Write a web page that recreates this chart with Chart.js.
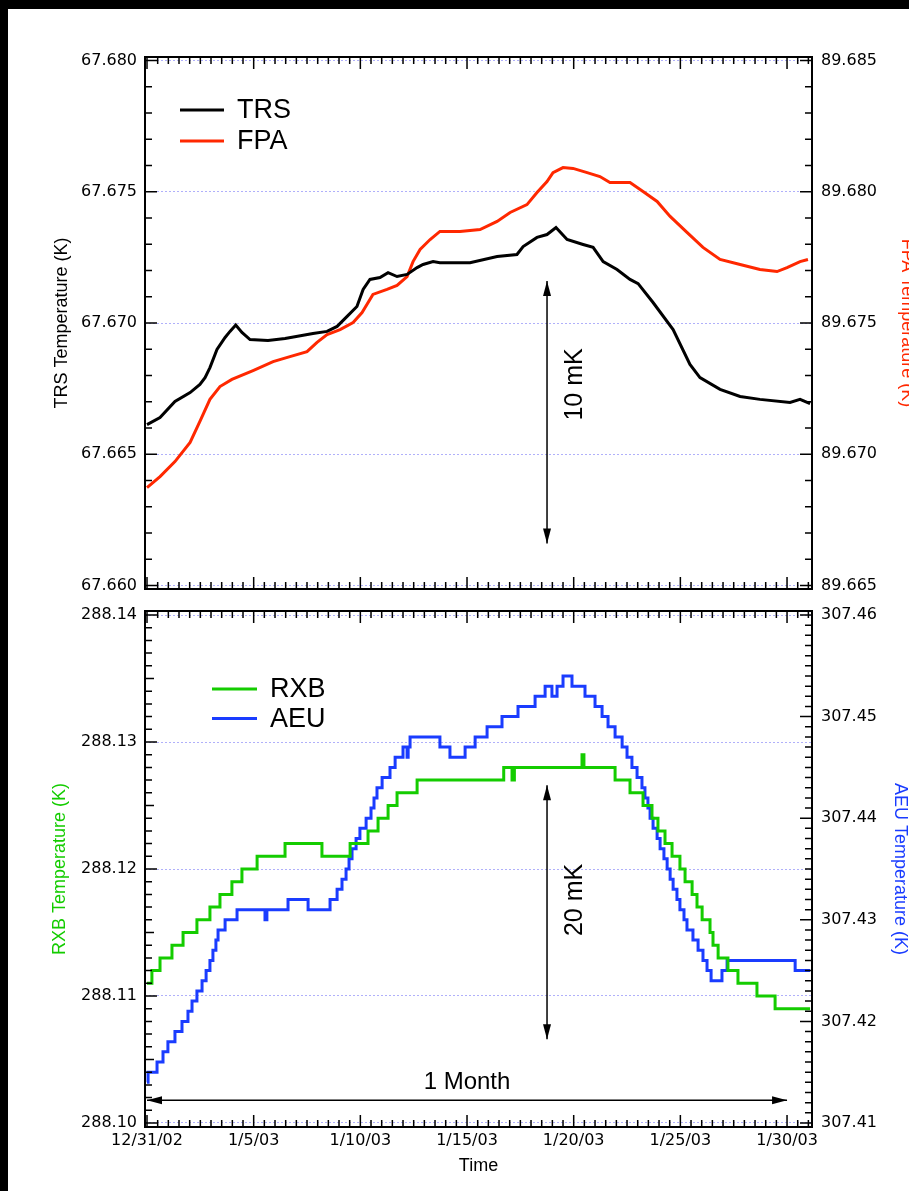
<!DOCTYPE html>
<html>
<head>
<meta charset="utf-8">
<script src="https://cdn.jsdelivr.net/npm/chart.js@4.4.1/dist/chart.umd.min.js"></script>
<style>
    body { margin: 0; background: #000; overflow: hidden; width: 909px; height: 1191px; position: relative; }
    #hoja { position: absolute; left: 8px; top: 9px; width: 901px; height: 1182px; background: #fff; }
    canvas { position: absolute; left: 0; }
    #graficoArriba { top: 0; }
    #graficoAbajo { top: 590px; }
</style>
</head>
<body>
<div id="hoja"></div>
<canvas id="graficoArriba" width="930" height="620"></canvas>
<canvas id="graficoAbajo" width="930" height="601"></canvas>
<script>
//Eje X: dias desde 12/31/02
var dayTicks = [0, 5, 10, 15, 20, 25, 30];
var dateLabels = ['12/31/02', '1/5/03', '1/10/03', '1/15/03', '1/20/03', '1/25/03', '1/30/03'];

//Etiquetas ejes Y
var trsTicks = ['67.660', '67.665', '67.670', '67.675', '67.680'];
var fpaTicks = ['89.665', '89.670', '89.675', '89.680', '89.685'];
var rxbTicks = ['288.10', '288.11', '288.12', '288.13', '288.14'];
var aeuTicks = ['307.41', '307.42', '307.43', '307.44', '307.45', '307.46'];

//TRS (K)
var trsDays = [0, 0.61, 1.31, 2.02, 2.48, 2.72, 2.95, 3.28, 3.66, 3.89, 4.16, 4.45, 4.83, 5.67, 6.47,
    7.78, 8.44, 8.91, 9.38, 9.84, 10.13, 10.45, 10.92, 11.30, 11.72, 12.19, 12.66, 12.94, 13.41, 13.73,
    15.14, 16.41, 17.34, 17.63, 18.28, 18.75, 19.17, 19.69, 20.44, 20.91, 21.38, 22.03, 22.64, 23.02, 23.72,
    24.66, 25.45, 25.92, 26.86, 27.80, 28.73, 30.14, 30.61, 31.08];
var trsTemp = [67.66613, 67.66640, 67.66701, 67.66735, 67.66766, 67.66792, 67.66830, 67.66899, 67.66945, 67.66968,
    67.66992, 67.66964, 67.66937, 67.66933, 67.66941, 67.66960, 67.66968, 67.66987, 67.67025, 67.67063,
    67.67128, 67.67166, 67.67173, 67.67192, 67.67177, 67.67185, 67.67211, 67.67223, 67.67234, 67.67230,
    67.67230, 67.67253, 67.67261, 67.67291, 67.67326, 67.67337, 67.67364, 67.67318, 67.67299, 67.67288,
    67.67234, 67.67204, 67.67166, 67.67150, 67.67078, 67.66975, 67.66842, 67.66792, 67.66747, 67.66720,
    67.66709, 67.66697, 67.66709, 67.66693];

//FPA (K)
var fpaDays = [0, 0.61, 1.31, 2.02, 2.48, 2.95, 3.42, 3.98, 4.97, 5.91, 6.70, 7.50, 7.97, 8.44, 9.05,
    9.66, 10.08, 10.59, 11.25, 11.72, 12.19, 12.47, 12.80, 13.27, 13.73, 14.67, 15.61, 16.41, 17.02, 17.81,
    18.28, 18.75, 19.03, 19.50, 19.97, 20.63, 21.23, 21.70, 22.64, 23.25, 23.91, 24.52, 25.31, 26.06, 26.86,
    27.80, 28.73, 29.53, 30.00, 30.61, 30.98];
var fpaTemp = [89.66873, 89.66915, 89.66972, 89.67045, 89.67125, 89.67209, 89.67258, 89.67285, 89.67319, 89.67353,
    89.67372, 89.67391, 89.67426, 89.67456, 89.67475, 89.67502, 89.67540, 89.67609, 89.67628, 89.67643,
    89.67677, 89.67734, 89.67780, 89.67818, 89.67849, 89.67849, 89.67856, 89.67887, 89.67921, 89.67951,
    89.67997, 89.68039, 89.68073, 89.68092, 89.68089, 89.68073, 89.68058, 89.68035, 89.68035, 89.68001,
    89.67963, 89.67906, 89.67845, 89.67788, 89.67742, 89.67723, 89.67704, 89.67696, 89.67711, 89.67734,
    89.67742];

//RXB (K), escalones
var rxbDays = [0, 0.23, 0.61, 1.17, 1.69, 2.34, 2.95, 3.42, 3.98, 4.45, 5.16, 6.47, 8.20, 9.52, 10.36,
    10.83, 11.30, 11.72, 12.66, 16.72, 17.11, 17.22, 20.39, 20.48, 21.94, 22.64, 23.25, 23.67, 23.95, 24.28,
    24.61, 24.98, 25.22, 25.55, 25.78, 26.02, 26.39, 26.53, 26.77, 27.23, 27.70, 28.59, 29.44, 31.08];
var rxbTemp = [288.111, 288.112, 288.113, 288.114, 288.115, 288.116, 288.117, 288.118, 288.119, 288.120,
    288.121, 288.122, 288.121, 288.122, 288.123, 288.124, 288.125, 288.126, 288.127, 288.128,
    288.127, 288.128, 288.129, 288.128, 288.127, 288.126, 288.125, 288.124, 288.123, 288.122,
    288.121, 288.120, 288.119, 288.118, 288.117, 288.116, 288.115, 288.114, 288.113, 288.112,
    288.111, 288.110, 288.109, 288.109];

//AEU (K), escalones
var aeuDays = [0, 0.05, 0.47, 0.75, 0.98, 1.31, 1.64, 1.92, 2.11, 2.34, 2.58, 2.77, 2.95, 3.09, 3.23,
    3.33, 3.66, 4.22, 5.53, 5.62, 6.61, 7.55, 8.58, 8.91, 9.14, 9.33, 9.47, 9.61, 9.80, 9.98,
    10.27, 10.50, 10.64, 10.78, 11.02, 11.39, 11.63, 12.00, 12.19, 12.24, 12.33, 13.73, 14.20, 14.91, 15.38,
    15.94, 16.64, 17.39, 18.19, 18.66, 18.98, 19.22, 19.50, 19.92, 20.53, 21.00, 21.33, 21.61, 21.94, 22.27,
    22.50, 22.73, 22.97, 23.20, 23.34, 23.48, 23.58, 23.72, 23.91, 24.05, 24.23, 24.38, 24.52, 24.66, 24.84,
    24.98, 25.17, 25.31, 25.59, 25.83, 26.06, 26.25, 26.44, 26.95, 27.19, 30.38, 31.08];
var aeuTemp = [307.414, 307.415, 307.416, 307.417, 307.418, 307.419, 307.420, 307.421, 307.422, 307.423,
    307.424, 307.425, 307.426, 307.427, 307.428, 307.429, 307.430, 307.431, 307.430, 307.431,
    307.432, 307.431, 307.432, 307.433, 307.434, 307.435, 307.436, 307.437, 307.438, 307.439,
    307.440, 307.441, 307.442, 307.443, 307.444, 307.445, 307.446, 307.447, 307.446, 307.447,
    307.448, 307.447, 307.446, 307.447, 307.448, 307.449, 307.450, 307.451, 307.452, 307.453,
    307.452, 307.453, 307.454, 307.453, 307.452, 307.451, 307.450, 307.449, 307.448, 307.447,
    307.446, 307.445, 307.444, 307.443, 307.442, 307.441, 307.440, 307.439, 307.438, 307.437,
    307.436, 307.435, 307.434, 307.433, 307.432, 307.431, 307.430, 307.429, 307.428, 307.427,
    307.426, 307.425, 307.424, 307.425, 307.426, 307.425, 307.425];

var rojo = 'rgb(255, 40, 0)';
var verde = 'rgb(20, 204, 0)';
var azul = 'rgb(26, 60, 255)';

function puntos(dias, valores) {
    return dias.map(function(d, i) { return {x: d, y: valores[i]}; });
}

//Eje Y con etiquetas fijas
function ejeY(posicion, etiquetas, margen, ancho, titulo, colorTitulo, padTitulo, rejilla) {
    var lo = parseFloat(etiquetas[0]);
    var hi = parseFloat(etiquetas[etiquetas.length - 1]);
    var extra = (hi - lo) * margen;
    return {
        type: 'linear',
        position: posicion,
        min: lo - extra,
        max: hi + extra,
        afterBuildTicks: function(scale) {
            scale.ticks = etiquetas.map(function(t) { return {value: parseFloat(t)}; });
        },
        afterFit: function(scale) { scale.width = ancho; },
        ticks: {
            padding: posicion === 'left' ? 8 : 9,
            color: '#000',
            font: {family: 'DejaVu Sans', size: 16},
            callback: function(value, index) { return etiquetas[index]; }
        },
        grid: {display: rejilla, drawTicks: false, color: 'rgb(176, 176, 250)', lineWidth: 1},
        border: {display: false, dash: [2, 2]},
        title: {
            display: true,
            text: titulo,
            color: colorTitulo,
            font: {family: 'Liberation Sans', size: 18},
            padding: {top: padTitulo, bottom: 0}
        }
    };
}

//Eje X (tiempo)
function ejeX(alto, conEtiquetas) {
    return {
        type: 'linear',
        position: 'bottom',
        min: -0.094,
        max: 31.17,
        afterBuildTicks: function(scale) {
            scale.ticks = dayTicks.map(function(d) { return {value: d}; });
        },
        afterFit: function(scale) { scale.height = alto; },
        ticks: {
            display: conEtiquetas,
            autoSkip: false,
            maxRotation: 0,
            padding: 4,
            color: '#000',
            font: {family: 'DejaVu Sans', size: 16},
            callback: function(value, index) { return dateLabels[index]; }
        },
        grid: {display: false, drawTicks: false},
        border: {display: false},
        title: {
            display: conEtiquetas,
            text: 'Time',
            color: '#000',
            font: {family: 'Liberation Sans', size: 18},
            padding: {top: 0, bottom: 14}
        }
    };
}

function marcasY(ctx, escala, x0, dir, conf) {
    var et = conf[0];
    var lo = parseFloat(et[0]);
    var hi = parseFloat(et[et.length - 1]);
    var paso = conf[1];
    var n = Math.round((hi - lo) / paso);
    var cadaMayor = Math.round((parseFloat(et[1]) - lo) / paso);
    var cadaMedio = conf[2] ? Math.round(conf[2] / paso) : 0;
    for (var i = 0; i <= n; i++) {
        var py = escala.getPixelForValue(lo + i * paso);
        var largo = i % cadaMayor === 0 ? 12 : (cadaMedio && i % cadaMedio === 0 ? 9 : 7);
        ctx.moveTo(x0, py);
        ctx.lineTo(x0 + dir * largo, py);
    }
}

function punta(ctx, x, y, ang) {
    ctx.save();
    ctx.translate(x, y);
    ctx.rotate(ang);
    ctx.beginPath();
    ctx.moveTo(0, 0);
    ctx.lineTo(-15, -4);
    ctx.lineTo(-15, 4);
    ctx.closePath();
    ctx.fill();
    ctx.restore();
}

//Marco, marcas hacia dentro, flechas, textos y leyenda
var decoracion = {
    id: 'decoracion',
    afterDatasetsDraw: function(chart, args, op) {
        var ctx = chart.ctx;
        var area = chart.chartArea;
        var sx = chart.scales.x;
        ctx.save();
        ctx.strokeStyle = '#000';
        ctx.fillStyle = '#000';
        ctx.lineWidth = 2;
        ctx.strokeRect(area.left, area.top, area.right - area.left, area.bottom - area.top);

        ctx.lineWidth = 1.5;
        ctx.beginPath();
        for (var i = 0; i <= 62; i++) {
            var px = sx.getPixelForValue(i / 2);
            var largo = i % 10 === 0 ? 12 : 7;
            ctx.moveTo(px, area.top);
            ctx.lineTo(px, area.top + largo);
            ctx.moveTo(px, area.bottom);
            ctx.lineTo(px, area.bottom - largo);
        }
        marcasY(ctx, chart.scales.yL, area.left, 1, op.izq);
        marcasY(ctx, chart.scales.yR, area.right, -1, op.der);
        ctx.stroke();

        op.flechas.forEach(function(f) {
            var sy = chart.scales[f.eje];
            var x1 = sx.getPixelForValue(f.x1), y1 = sy.getPixelForValue(f.y1);
            var x2 = sx.getPixelForValue(f.x2), y2 = sy.getPixelForValue(f.y2);
            var ang = Math.atan2(y2 - y1, x2 - x1);
            ctx.beginPath();
            ctx.moveTo(x1, y1);
            ctx.lineTo(x2, y2);
            ctx.stroke();
            punta(ctx, x1, y1, ang + Math.PI);
            punta(ctx, x2, y2, ang);
        });

        op.textos.forEach(function(t) {
            var sy = chart.scales[t.eje];
            ctx.save();
            ctx.translate(sx.getPixelForValue(t.x), sy.getPixelForValue(t.y));
            ctx.rotate(t.giro);
            ctx.font = t.tam + 'px "Liberation Sans"';
            ctx.textAlign = 'center';
            ctx.textBaseline = 'middle';
            ctx.fillText(t.texto, 0, 0);
            ctx.restore();
        });

        var ley = op.leyenda;
        ctx.font = '27px "Liberation Sans"';
        ctx.textAlign = 'left';
        ctx.textBaseline = 'middle';
        ctx.lineWidth = 3;
        ley.items.forEach(function(it, k) {
            var y = area.top + ley.y + k * ley.paso;
            var x = area.left + ley.x;
            ctx.strokeStyle = it[1];
            ctx.beginPath();
            ctx.moveTo(x, y);
            ctx.lineTo(x + ley.largo, y);
            ctx.stroke();
            ctx.fillStyle = '#000';
            ctx.fillText(it[0], x + ley.largo + 13, y + 1);
        });
        ctx.restore();
    }
};

//Grafico superior: TRS y FPA
var getGraficoArriba = document.getElementById('graficoArriba');
var graficoArriba = new Chart(getGraficoArriba, {
    type: 'line',
    plugins: [decoracion],
    data: {
        datasets: [
            {
                label: 'TRS',
                data: puntos(trsDays, trsTemp),
                yAxisID: 'yL',
                borderColor: '#000',
                borderWidth: 3,
                pointRadius: 0,
                tension: 0,
                fill: false
            },
            {
                label: 'FPA',
                data: puntos(fpaDays, fpaTemp),
                yAxisID: 'yR',
                borderColor: rojo,
                borderWidth: 3,
                pointRadius: 0,
                tension: 0,
                fill: false
            }]
    },
    options: {
        responsive: false,
        animation: false,
        devicePixelRatio: 1,
        layout: {padding: {top: 57, left: 0, right: 0, bottom: 0}},
        scales: {
            x: ejeX(31, false),
            yL: ejeY('left', trsTicks, 0.0067, 145, 'TRS Temperature (K)', '#000', 51, true),
            yR: ejeY('right', fpaTicks, 0.0067, 118, 'FPA Temperature (K)', rojo, 12, false)
        },
        plugins: {
            legend: {display: false},
            tooltip: {enabled: false},
            decoracion: {
                izq: [trsTicks, 0.001, 0],
                der: [fpaTicks, 0.001, 0],
                flechas: [{x1: 18.75, y1: 67.6716, x2: 18.75, y2: 67.6616, eje: 'yL'}],
                textos: [{texto: '10 mK', x: 20.06, y: 67.66766, eje: 'yL', giro: -Math.PI / 2, tam: 25}],
                leyenda: {items: [['TRS', '#000'], ['FPA', rojo]], x: 35, y: 53, paso: 31, largo: 44}
            }
        }
    }
});

//Grafico inferior: RXB y AEU
var getGraficoAbajo = document.getElementById('graficoAbajo');
var graficoAbajo = new Chart(getGraficoAbajo, {
    type: 'line',
    plugins: [decoracion],
    data: {
        datasets: [
            {
                label: 'RXB',
                data: puntos(rxbDays, rxbTemp),
                yAxisID: 'yL',
                borderColor: verde,
                borderWidth: 3,
                pointRadius: 0,
                stepped: true,
                fill: false
            },
            {
                label: 'AEU',
                data: puntos(aeuDays, aeuTemp),
                yAxisID: 'yR',
                borderColor: azul,
                borderWidth: 3,
                pointRadius: 0,
                stepped: true,
                fill: false
            }]
    },
    options: {
        responsive: false,
        animation: false,
        devicePixelRatio: 1,
        layout: {padding: {top: 21, left: 0, right: 0, bottom: 0}},
        scales: {
            x: ejeX(64, true),
            yL: ejeY('left', rxbTicks, 0.0079, 145, 'RXB Temperature (K)', verde, 49, true),
            yR: ejeY('right', aeuTicks, 0.0079, 118, 'AEU Temperature (K)', azul, 19, false)
        },
        plugins: {
            legend: {display: false},
            tooltip: {enabled: false},
            decoracion: {
                izq: [rxbTicks, 0.001, 0.005],
                der: [aeuTicks, 0.001, 0],
                flechas: [
                    {x1: 18.75, y1: 288.1266, x2: 18.75, y2: 288.1066, eje: 'yL'},
                    {x1: 0, y1: 288.1018, x2: 30, y2: 288.1018, eje: 'yL'}
                ],
                textos: [
                    {texto: '20 mK', x: 20.06, y: 288.11756, eje: 'yL', giro: -Math.PI / 2, tam: 25},
                    {texto: '1 Month', x: 15.0, y: 288.10323, eje: 'yL', giro: 0, tam: 24}
                ],
                leyenda: {items: [['RXB', verde], ['AEU', azul]], x: 67, y: 78, paso: 29.5, largo: 45}
            }
        }
    }
});
</script>
</body>
</html>
